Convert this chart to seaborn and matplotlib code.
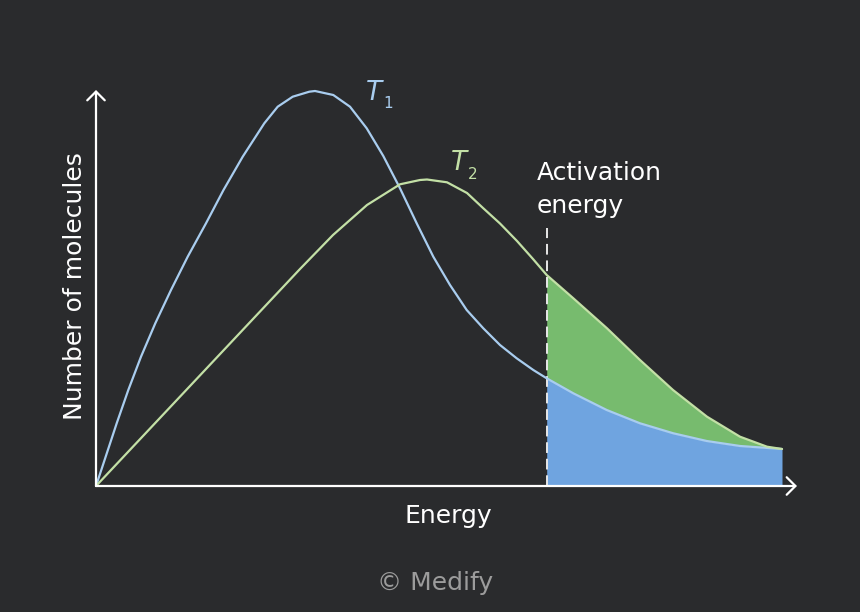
import numpy as np
import pandas as pd
import matplotlib
matplotlib.use("Agg")
import matplotlib.pyplot as plt
from matplotlib.patches import FancyArrowPatch
import seaborn as sns

# ---- data (arbitrary energy / count units) ----
t1_energy = [0, 20.7, 32.3, 45, 59.3, 75, 91.7, 110, 127.5, 146.7, 168.3, 181.7,
             196.7, 213.3, 219, 237.3, 254, 270.7, 287.3, 304, 320.7, 337.3, 354,
             370.7, 387.3, 404, 420.7, 437.3, 450.7, 477.3, 510.7, 544, 577.3,
             610.7, 644, 686]
t1_count = [0, 62.7, 96, 129.3, 162.7, 196, 229.3, 262.7, 296, 329.3, 362.7, 379.3,
            389.3, 394.3, 395, 391, 379.3, 357.7, 330, 297.7, 262.7, 229.3, 201,
            176, 157.7, 141, 127.7, 116, 107.7, 92.7, 76, 62.7, 52.7,
            45, 40, 37]

t2_energy = [0, 204, 237, 271, 304, 324, 331, 351, 371, 387, 404, 421, 437, 450.7,
             477, 511, 544, 577, 611, 644, 671, 686]
t2_count = [0, 217, 251, 281, 301.7, 306, 306.5, 303.7, 293, 278, 262.5, 245, 227,
            211, 188, 157.7, 126, 96, 69.3, 49.3, 39.3, 37]

activation_energy = 450.7
activation_line_top = 258
x_axis_end = 701
y_axis_end = 396

labels = {"x": "Energy", "y": "Number of molecules",
          "act1": "Activation", "act2": "energy", "credit": "\u00a9 Medify"}

# ---- colours ----
bg = "#2a2b2d"
blue_line = "#a9cdef"
green_line = "#c3e0a6"
blue_fill = "#6fa4e0"
green_fill = "#77bb6e"

sns.set_theme(style="white")
plt.rcParams["font.family"] = ["DejaVu Sans"]

fig = plt.figure(figsize=(8.6, 6.12), dpi=100, facecolor=bg)
ax = fig.add_axes([0, 0, 1, 1])
ax.set_facecolor(bg)
ax.set_xlim(-96, 764)
ax.set_ylim(-126, 486)
ax.axis("off")

df1 = pd.DataFrame({"energy": t1_energy, "count": t1_count})
df2 = pd.DataFrame({"energy": t2_energy, "count": t2_count})

# fills beyond activation energy (on the union of both sample grids)
e_tail = np.array(sorted(set(e for e in t1_energy + t2_energy if e >= activation_energy)),
                  dtype=float)
b_tail = np.interp(e_tail, t1_energy, t1_count)
g_tail = np.interp(e_tail, t2_energy, t2_count)
ax.fill_between(e_tail, 0, b_tail, color=blue_fill, lw=0, zorder=1)
ax.fill_between(e_tail, b_tail, g_tail, color=green_fill, lw=0, zorder=1)

# dashed activation line
ax.plot([activation_energy, activation_energy], [0, activation_line_top],
        color="#e8e8e8", lw=1.4, dashes=(5.5, 3), zorder=2)

sns.lineplot(data=df1, x="energy", y="count", ax=ax, color=blue_line,
             linewidth=1.6, estimator=None, sort=False, zorder=3)
sns.lineplot(data=df2, x="energy", y="count", ax=ax, color=green_line,
             linewidth=1.6, estimator=None, sort=False, zorder=3)

# axes arrows
for end in [(x_axis_end, 0), (0, y_axis_end)]:
    arr = FancyArrowPatch((0, 0), end, arrowstyle="->,head_length=0.45,head_width=0.45",
                          mutation_scale=14, color="white", lw=1.6,
                          shrinkA=0, shrinkB=0, zorder=4)
    ax.add_patch(arr)

txt = dict(color="white", fontsize=18)
ax.text(352, -37, labels["x"], ha="center", va="baseline", **txt)
ax.text(-14, 200, labels["y"], ha="center", va="baseline", rotation=90,
        rotation_mode="anchor", **txt)
ax.text(441, 306, labels["act1"], ha="left", va="baseline", **txt)
ax.text(441, 273, labels["act2"], ha="left", va="baseline", **txt)
ax.text(339, -104, labels["credit"], ha="center", va="baseline",
        color="#9c9c9c", fontsize=18)

# curve labels
ax.text(270, 386, "T", style="italic", color=blue_line, fontsize=19,
        ha="left", va="baseline")
ax.text(287, 378, "1", color=blue_line, fontsize=11, ha="left", va="baseline")
ax.text(355, 316, "T", style="italic", color=green_line, fontsize=19,
        ha="left", va="baseline")
ax.text(372, 307, "2", color=green_line, fontsize=11, ha="left", va="baseline")

fig.savefig("out.png", dpi=100, facecolor=bg)
